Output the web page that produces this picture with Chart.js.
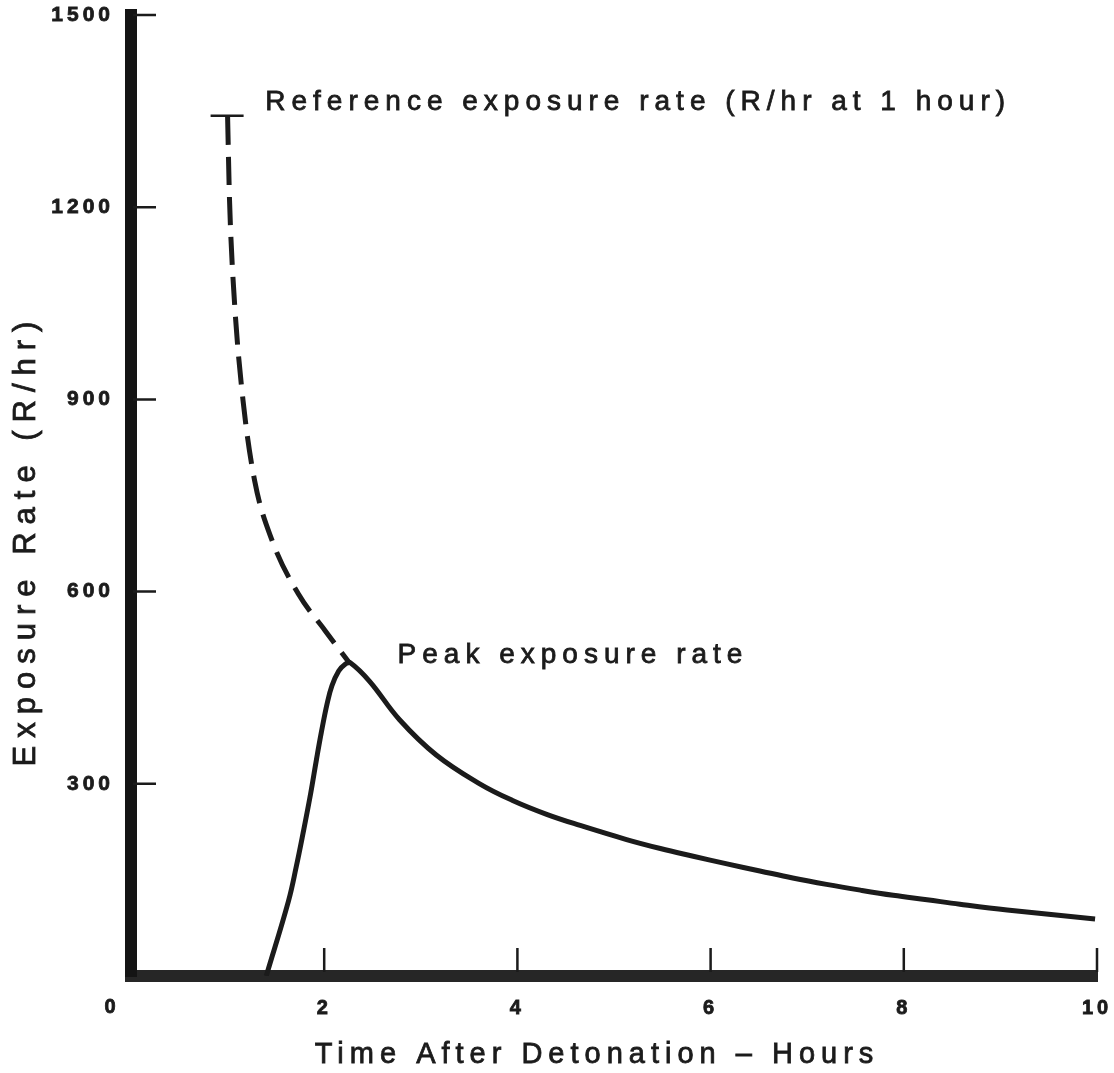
<!DOCTYPE html>
<html>
<head>
<meta charset="utf-8">
<script src="https://cdn.jsdelivr.net/npm/chart.js@4/dist/chart.umd.min.js"></script>
<style>
  body { margin: 0; background: #fff; }
  #wrap { width: 1114px; height: 1073px; }
</style>
</head>
<body>
<div id="wrap"><canvas id="fallout" width="1114" height="1073"></canvas></div>
<script>
// reference curve (dashed), hours / R per hr
const refTimes = [1.0, 1.02, 1.07, 1.16, 1.28, 1.46, 1.73, 2.01, 2.27];
const refRates = [1341, 1211, 1055, 898, 773, 680, 597, 539, 487];

// measured exposure rate (solid)
const obsTimes = [1.40, 1.63, 1.71, 1.78, 1.86, 1.92, 1.97, 2.03, 2.08, 2.15, 2.22, 2.27, 2.47, 2.78, 3.16, 3.61, 3.95, 4.31, 4.65, 5.13, 5.48, 5.82, 6.17, 6.51, 6.85, 7.20, 7.55, 7.89, 8.24, 8.58, 9.07, 9.98];
const obsRates = [0, 117, 170, 222, 285, 338, 380, 425, 453, 476, 487, 489, 460, 400, 345, 300, 274, 252, 235, 213, 199, 187, 175, 164, 153, 143, 134, 126, 119, 112, 103, 89];

const xTicks = [0, 2, 4, 6, 8, 10];
const yTicks = [300, 600, 900, 1200, 1500];

const refLabel = 'Reference exposure rate (R/hr at 1 hour)';
const peakLabel = 'Peak exposure rate';
const xTitle = 'Time After Detonation – Hours';
const yTitle = 'Exposure Rate (R/hr)';

const FONT = "'Liberation Sans', Arial, Helvetica, sans-serif";
const INK = '#1b1b1b';

Chart.defaults.font.family = FONT;
Chart.defaults.color = INK;

// a bit heavier than regular, like the typeset original
function heavyText(ctx, text, x, y) {
  ctx.fillText(text, x, y);
  ctx.strokeText(text, x, y);
}

// keep the plot box where the original has it
function noPadding(s) {
  s.paddingTop = 0;
  s.paddingBottom = 0;
  s.paddingLeft = 0;
  s.paddingRight = 0;
}

// tick marks pointing inward, cap on the dashed line, labels and titles
const extras = {
  id: 'extras',
  beforeDraw(chart) {
    chart.ctx.letterSpacing = '4px';
  },
  afterDraw(chart) {
    const ctx = chart.ctx;
    const area = chart.chartArea;
    const x = chart.scales.x;
    const y = chart.scales.y;
    ctx.save();
    ctx.strokeStyle = INK;
    ctx.lineWidth = 2.5;
    ctx.beginPath();
    yTicks.forEach(v => {
      const py = y.getPixelForValue(v);
      ctx.moveTo(area.left + 2, py);
      ctx.lineTo(area.left + 25, py);
    });
    xTicks.slice(1).forEach(v => {
      const px = x.getPixelForValue(v);
      ctx.moveTo(px, area.bottom - 4);
      ctx.lineTo(px, area.bottom - 28);
    });
    // little T on top of the reference curve
    const cx = x.getPixelForValue(refTimes[0]);
    const cy = y.getPixelForValue(refRates[0]);
    ctx.moveTo(cx - 17, cy - 1);
    ctx.lineTo(cx + 16, cy - 1);
    ctx.stroke();

    // corner "0"
    ctx.fillStyle = INK;
    ctx.lineWidth = 0.8;
    ctx.font = 'bold 20px ' + FONT;
    ctx.textAlign = 'center';
    ctx.textBaseline = 'middle';
    heavyText(ctx, '0', area.left - 19, 1007);

    // annotations
    ctx.letterSpacing = '6px';
    ctx.font = '28px ' + FONT;
    ctx.textAlign = 'left';
    heavyText(ctx, refLabel, x.getPixelForValue(1.39), y.getPixelForValue(1363));
    heavyText(ctx, peakLabel, x.getPixelForValue(2.76), y.getPixelForValue(501));

    // axis titles
    ctx.font = '29px ' + FONT;
    ctx.textAlign = 'center';
    heavyText(ctx, xTitle, 597, 1055);
    ctx.translate(26, 540);
    ctx.rotate(-Math.PI / 2);
    ctx.letterSpacing = '8px';
    ctx.font = '31px ' + FONT;
    heavyText(ctx, yTitle, 0, 0);
    ctx.restore();
  }
};

new Chart(document.getElementById('fallout'), {
  type: 'line',
  data: {
    datasets: [{
      label: 'Reference',
      data: refTimes.map((t, i) => ({ x: t, y: refRates[i] })),
      borderColor: INK,
      borderWidth: 5,
      borderDash: [28, 12],
      pointRadius: 0,
      cubicInterpolationMode: 'monotone',
      fill: false
    }, {
      label: 'Exposure rate',
      data: obsTimes.map((t, i) => ({ x: t, y: obsRates[i] })),
      borderColor: INK,
      borderWidth: 5,
      pointRadius: 0,
      tension: 0.4,
      fill: false
    }]
  },
  options: {
    responsive: false,
    animation: false,
    layout: { padding: { top: 15, right: 17, bottom: 0, left: 0 } },
    plugins: { legend: { display: false }, tooltip: { enabled: false } },
    scales: {
      x: {
        type: 'linear',
        min: 0,
        max: 10,
        afterBuildTicks: s => { s.ticks = xTicks.map(v => ({ value: v })); },
        afterFit: s => { s.height = 97; noPadding(s); },
        ticks: {
          callback: v => (v === 0 ? '' : String(v)),
          font: { size: 20, weight: 'bold' },
          color: INK,
          textStrokeColor: INK,
          textStrokeWidth: 0.8,
          padding: 20,
          maxRotation: 0,
          autoSkip: false
        },
        grid: { display: false, drawTicks: false },
        border: { display: true, width: 12, color: '#262626' }
      },
      y: {
        min: 0,
        max: 1500,
        afterBuildTicks: s => { s.ticks = yTicks.map(v => ({ value: v })); },
        afterFit: s => { s.width = 131; noPadding(s); },
        ticks: {
          callback: v => String(v),
          font: { size: 21, weight: 'bold' },
          color: INK,
          textStrokeColor: INK,
          textStrokeWidth: 0.8,
          padding: 17
        },
        grid: { display: false, drawTicks: false },
        border: { display: true, width: 12, color: '#141414' }
      }
    }
  },
  plugins: [extras]
});
</script>
</body>
</html>
